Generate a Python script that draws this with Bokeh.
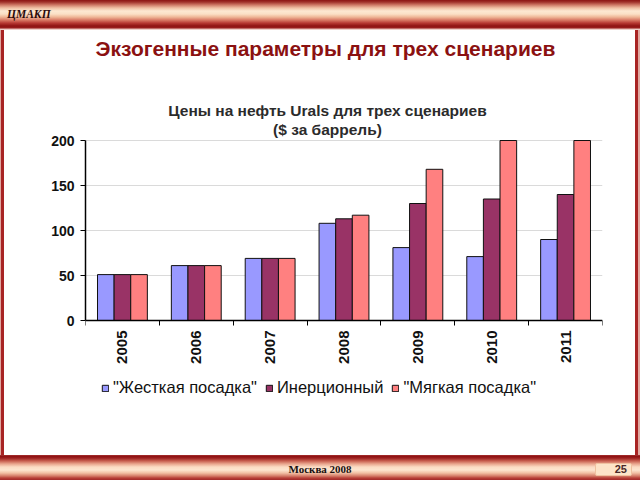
import numpy as np
from bokeh.plotting import figure
from bokeh.layouts import column
from bokeh.models import (ColumnDataSource, Range1d, FixedTicker, Legend, LegendItem, Label, Div)
from bokeh.transform import dodge
from bokeh.embed import file_html
from bokeh.resources import INLINE

# ---------------- data ----------------
years = ["2005", "2006", "2007", "2008", "2009", "2010", "2011"]
hard_landing = [51, 61, 69, 108, 81, 71, 90]
inertial = [51, 61, 69, 113, 130, 135, 140]
soft_landing = [51, 61, 69, 117, 168, 200, 200]
series_names = ['"Жесткая посадка"', 'Инерционный', '"Мягкая посадка"']
series_colors = ["#9999FF", "#993366", "#FF8080"]
y_ticks = [0, 50, 100, 150, 200]

main_title = "Экзогенные параметры для трех сценариев"
chart_title_1 = "Цены на нефть Urals для трех сценариев"
chart_title_2 = "($ за баррель)"
top_tag = "ЦМАКП"
footer_text = "Москва 2008"
page_number = "25"

# ---------------- layout constants (canvas px) ----------------
W, H = 640, 480
TOP_H, BOT_Y = 30, 455            # top banner height, bottom banner start
FL, FR = 85, 602                  # plot area left / right
Y200, Y0 = 140, 320               # canvas rows of the 200 and 0 levels
FRAME_B = 405                     # bottom of the bokeh frame (legend lives inside it)
FONT = "Liberation Sans"
SERIF = "Liberation Serif"

top_stops = [(0, "#8c1414"), (2, "#a0302a"), (5, "#cf7a68"), (8, "#efc0a5"), (11, "#fde8d2"),
             (14, "#fbe0c6"), (17, "#f0b898"), (20, "#d97a66"), (23, "#b83a34"), (26, "#8e1212"),
             (28, "#9a2020"), (29, "#e4b8b0"), (30, "#f6e6e4")]
bot_stops = [(0, "#b04040"), (1, "#8c1010"), (3, "#9c2020"), (6, "#c86050"), (9, "#eaa890"),
             (12, "#fbdcc4"), (15, "#fde6d0"), (18, "#f2c0a4"), (21, "#d47c68"), (23, "#b84038"),
             (25, "#a02828")]


def css_gradient(stops):
    return "linear-gradient(to bottom, " + ", ".join("%s %dpx" % (c, y) for y, c in stops) + ")"


# ---------------- top banner ----------------
top = Div(text=top_tag, width=W, height=TOP_H, margin=0,
          styles={"background": css_gradient(top_stops), "box-sizing": "border-box",
                  "padding-left": "7px", "line-height": "29px", "font-family": SERIF,
                  "font-style": "italic", "font-weight": "bold", "font-size": "11.5px",
                  "color": "#2a0a0a", "overflow": "hidden"})

# ---------------- bottom banner ----------------
bot_html = (
    '<div style="position:relative;width:%dpx;height:%dpx;">'
    '<div style="position:absolute;left:0;top:8px;width:%dpx;text-align:center;'
    'font-family:%s;font-weight:bold;font-size:11px;line-height:13px;color:#1a1010;">%s</div>'
    '<div style="position:absolute;left:595px;top:8px;width:37px;height:13px;box-sizing:border-box;'
    'background:#fde4c8;border:1px solid #efc2a0;border-radius:2px;text-align:right;padding-right:4px;'
    'font-family:%s;font-weight:bold;font-size:11px;line-height:11px;color:#4a2a2a;">%s</div>'
    '</div>' % (W, H - BOT_Y, W, SERIF, footer_text, FONT, page_number)
)
bot = Div(text=bot_html, width=W, height=H - BOT_Y, margin=0,
          styles={"background": css_gradient(bot_stops), "overflow": "hidden"})

# ---------------- chart ----------------
MID_H = BOT_Y - TOP_H
px_per_unit = (Y0 - Y200) / 200.0
y_start = -(FRAME_B - Y0) / px_per_unit
y_end = (Y0 - TOP_H) / px_per_unit
p = figure(width=W, height=MID_H, output_backend="svg", toolbar_location=None,
           x_range=Range1d(-0.5, len(years) - 0.5), y_range=Range1d(y_start, y_end),
           min_border_left=FL, min_border_right=W - FR,
           min_border_top=0, min_border_bottom=BOT_Y - FRAME_B)
p.outline_line_color = None
p.background_fill_color = "white"
p.border_fill_color = None
p.styles = {"background-color": "white",
            "box-shadow": "inset 1px 0 0 #e0a8a0, inset 4px 0 0 #a82424, "
                          "inset -2px 0 0 #e0a8a0, inset -5px 0 0 #a82424"}

src = ColumnDataSource(dict(x=list(range(len(years))), hard=hard_landing,
                            inertial=inertial, soft=soft_landing))
bw = 0.225
renderers = []
for field, off, col in zip(["hard", "inertial", "soft"], [-bw, 0, bw], series_colors):
    r = p.vbar(x=dodge("x", off, range=p.x_range), top=field, bottom=0, width=bw, source=src,
               fill_color=col, line_color="#111111", line_width=1)
    renderers.append(r)

xa = p.xaxis[0]
xa.fixed_location = 0
xa.ticker = FixedTicker(ticks=list(range(len(years))),
                        minor_ticks=[i - 0.5 for i in range(len(years) + 1)])
xa.major_label_overrides = {i: y for i, y in enumerate(years)}
xa.major_tick_line_color = None
xa.major_tick_out = 5
xa.major_tick_in = 0
xa.minor_tick_line_color = "black"
xa.minor_tick_out = 5
xa.minor_tick_in = 0
xa.major_label_orientation = np.pi / 2
xa.major_label_standoff = 5
xa.major_label_text_font = FONT
xa.major_label_text_font_size = "15px"
xa.major_label_text_font_style = "bold"
xa.major_label_text_color = "#111111"
xa.axis_line_color = "black"
xa.axis_line_width = 1.5

ya = p.yaxis[0]
ya.ticker = FixedTicker(ticks=y_ticks)
ya.bounds = (0, 200)
ya.minor_tick_line_color = None
ya.major_tick_out = 5
ya.major_tick_in = 0
ya.major_tick_line_color = "black"
ya.major_label_standoff = 6
ya.major_label_text_font = FONT
ya.major_label_text_font_size = "14px"
ya.major_label_text_font_style = "bold"
ya.major_label_text_color = "#111111"
ya.axis_line_color = "black"
ya.axis_line_width = 1.5

p.xgrid.visible = False
p.ygrid.grid_line_color = "#dadada"
p.ygrid.grid_line_width = 1

legend = Legend(items=[LegendItem(label=n, renderers=[r]) for n, r in zip(series_names, renderers)],
                orientation="horizontal", location=(16, FRAME_B - 397),
                glyph_width=8, glyph_height=8, label_standoff=4, spacing=8,
                padding=0, margin=0, border_line_color=None, background_fill_alpha=0,
                label_text_font=FONT, label_text_font_size="16.5px", label_height=16,
                label_text_color="#111111")
p.add_layout(legend)


def label(text, X, Y, size, color, style="bold"):
    p.add_layout(Label(x=X - FL, y=FRAME_B - Y, x_units="screen", y_units="screen", text=text,
                       text_font=FONT, text_font_size=size, text_font_style=style,
                       text_color=color, text_align="center", text_baseline="middle"))


label(main_title, 325, 48, "21px", "#8b1111")
label(chart_title_1, 327, 110, "15.5px", "#2b2b2b")
label(chart_title_2, 327, 129, "15.5px", "#2b2b2b")

layout = column(top, p, bot, spacing=0)
open("out.html", "w").write(file_html(layout, INLINE))
